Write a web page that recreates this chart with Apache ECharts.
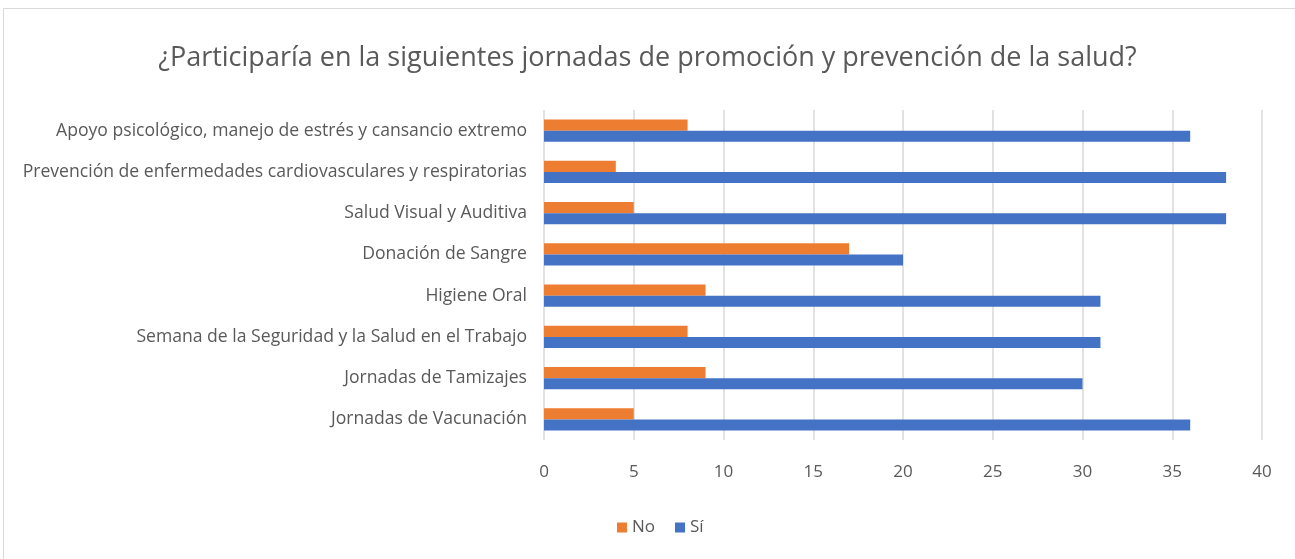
<!DOCTYPE html>
<html>
<head>
<meta charset="utf-8">
<script src="https://cdn.jsdelivr.net/npm/echarts@6/dist/echarts.min.js"></script>
<style>
  html, body { margin: 0; padding: 0; background: #fff; }
  #main { width: 1295px; height: 559px; }
</style>
</head>
<body>
<div id="main"></div>
<script>
// categorías, de abajo hacia arriba
var categories = [
  "Jornadas de Vacunación",
  "Jornadas de Tamizajes",
  "Semana de la Seguridad y la Salud en el Trabajo",
  "Higiene Oral",
  "Donación de Sangre",
  "Salud Visual y Auditiva",
  "Prevención de enfermedades cardiovasculares y respiratorias",
  "Apoyo psicológico, manejo de estrés y cansancio extremo"
];
var siValues = [36, 30, 31, 31, 20, 38, 38, 36];
var noValues = [5, 9, 8, 9, 17, 5, 4, 8];
var xTicks = [0, 40, 5];

var font = "Open Sans";
var chart = echarts.init(document.getElementById("main"));

var option = {
  backgroundColor: "#fff",
  textStyle: { fontFamily: font },
  title: {
    text: "¿Participaría en la siguientes jornadas de promoción y prevención de la salud?",
    left: "center",
    top: 40,
    textStyle: { fontFamily: font, fontSize: 27, fontWeight: "normal", color: "#595959" }
  },
  graphic: [
    {
      type: "rect",
      shape: { x: 3.5, y: 8.5, width: 1300, height: 560 },
      style: { fill: "none", stroke: "#d9d9d9", lineWidth: 1 },
      silent: true
    }
  ],
  legend: {
    data: ["No", "Sí"],
    bottom: 18,
    left: 612,
    itemWidth: 10,
    itemHeight: 10,
    itemGap: 20,
    icon: "rect",
    textStyle: { fontFamily: font, fontSize: 17, color: "#595959" }
  },
  grid: { left: 544, right: 33, top: 110, bottom: 119 },
  xAxis: {
    type: "value",
    min: xTicks[0],
    max: xTicks[1],
    interval: xTicks[2],
    axisLine: { show: false },
    axisTick: { show: false },
    axisLabel: { fontSize: 17, color: "#595959", margin: 24 },
    splitLine: { lineStyle: { color: "#d9d9d9", width: 1.5 } }
  },
  yAxis: {
    type: "category",
    data: categories,
    axisLine: { show: false },
    axisTick: { show: false },
    axisLabel: { fontSize: 17.6, color: "#595959", margin: 17 }
  },
  series: [
    {
      name: "No",
      type: "bar",
      data: noValues,
      barGap: "0%",
      barCategoryGap: "46%",
      itemStyle: { color: "#ED7D31" }
    },
    {
      name: "Sí",
      type: "bar",
      data: siValues,
      barGap: "0%",
      barCategoryGap: "46%",
      itemStyle: { color: "#4472C4" }
    }
  ]
};

chart.setOption(option);
</script>
</body>
</html>
